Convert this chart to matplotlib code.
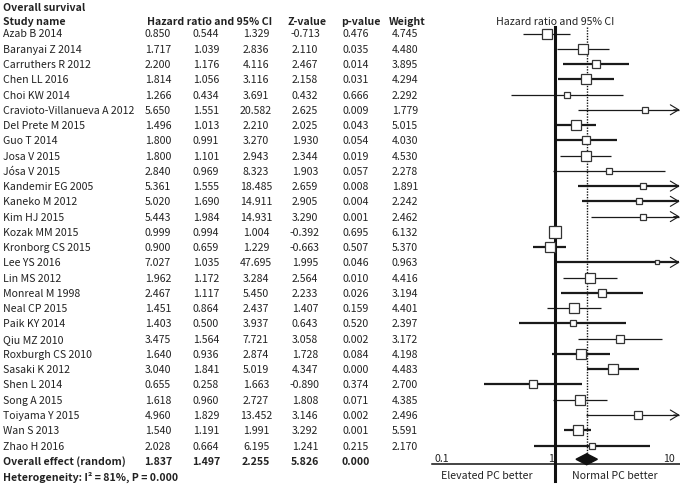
import numpy as np
import matplotlib.pyplot as plt
from matplotlib.transforms import blended_transform_factory

plt.rcParams['font.family'] = ['Noto Sans CJK SC', 'DejaVu Sans']

# data
studies = [
    "Azab B 2014", "Baranyai Z 2014", "Carruthers R 2012", "Chen LL 2016",
    "Choi KW 2014", "Cravioto-Villanueva A 2012", "Del Prete M 2015",
    "Guo T 2014", "Josa V 2015", "Jósa V 2015", "Kandemir EG 2005",
    "Kaneko M 2012", "Kim HJ 2015", "Kozak MM 2015", "Kronborg CS 2015",
    "Lee YS 2016", "Lin MS 2012", "Monreal M 1998", "Neal CP 2015",
    "Paik KY 2014", "Qiu MZ 2010", "Roxburgh CS 2010", "Sasaki K 2012",
    "Shen L 2014", "Song A 2015", "Toiyama Y 2015", "Wan S 2013",
    "Zhao H 2016",
]
hr = [0.850, 1.717, 2.200, 1.814, 1.266, 5.650, 1.496, 1.800, 1.800, 2.840,
      5.361, 5.020, 5.443, 0.999, 0.900, 7.027, 1.962, 2.467, 1.451, 1.403,
      3.475, 1.640, 3.040, 0.655, 1.618, 4.960, 1.540, 2.028]
lower = [0.544, 1.039, 1.176, 1.056, 0.434, 1.551, 1.013, 0.991, 1.101, 0.969,
         1.555, 1.690, 1.984, 0.994, 0.659, 1.035, 1.172, 1.117, 0.864, 0.500,
         1.564, 0.936, 1.841, 0.258, 0.960, 1.829, 1.191, 0.664]
upper = [1.329, 2.836, 4.116, 3.116, 3.691, 20.582, 2.210, 3.270, 2.943, 8.323,
         18.485, 14.911, 14.931, 1.004, 1.229, 47.695, 3.284, 5.450, 2.437, 3.937,
         7.721, 2.874, 5.019, 1.663, 2.727, 13.452, 1.991, 6.195]
zval = [-0.713, 2.110, 2.467, 2.158, 0.432, 2.625, 2.025, 1.930, 2.344, 1.903,
        2.659, 2.905, 3.290, -0.392, -0.663, 1.995, 2.564, 2.233, 1.407, 0.643,
        3.058, 1.728, 4.347, -0.890, 1.808, 3.146, 3.292, 1.241]
pval = [0.476, 0.035, 0.014, 0.031, 0.666, 0.009, 0.043, 0.054, 0.019, 0.057,
        0.008, 0.004, 0.001, 0.695, 0.507, 0.046, 0.010, 0.026, 0.159, 0.520,
        0.002, 0.084, 0.000, 0.374, 0.071, 0.002, 0.001, 0.215]
weight = [4.745, 4.480, 3.895, 4.294, 2.292, 1.779, 5.015, 4.030, 4.530, 2.278,
          1.891, 2.242, 2.462, 6.132, 5.370, 0.963, 4.416, 3.194, 4.401, 2.397,
          3.172, 4.198, 4.483, 2.700, 4.385, 2.496, 5.591, 2.170]

overall = dict(hr=1.837, lower=1.497, upper=2.255, z=5.826, p=0.000)
heterogeneity = "Heterogeneity: I² = 81%, P = 0.000"

# rows whose CI lines render heavier in the original
heavy_ci = {"Carruthers R 2012", "Chen LL 2016", "Del Prete M 2015", "Guo T 2014",
            "Kandemir EG 2005", "Kaneko M 2012", "Kronborg CS 2015", "Lee YS 2016",
            "Monreal M 1998", "Paik KY 2014", "Roxburgh CS 2010", "Sasaki K 2012",
            "Shen L 2014", "Wan S 2013", "Zhao H 2016"}

W, H = 680, 489
fig = plt.figure(figsize=(W / 100, H / 100), dpi=100)
ax = fig.add_axes([0, 0, 1, 1])
ax.set_xscale('log')
px_dec = 120.0
x_one = 555.0
ax.set_xlim(10 ** (-x_one / px_dec), 10 ** ((W - x_one) / px_dec))
row0, step = 34.5, 15.26
ax.set_ylim((H - row0) / step, -row0 / step)
ax.axis('off')

tr = blended_transform_factory(fig.transFigure, ax.transData)
fx = lambda p: p / W

txt = '#222222'
fs = 7.6
n = len(studies)

# title and headers
ax.text(fx(3), -1.75, "Overall survival", transform=tr, fontsize=fs, color=txt,
        va='center', ha='left', fontweight='bold')
hdr_y = -0.85
ax.text(fx(3), hdr_y, "Study name", transform=tr, fontsize=fs, color=txt,
        va='center', ha='left', fontweight='bold')
ax.text(fx(210), hdr_y, "Hazard ratio and 95% CI", transform=tr, fontsize=fs,
        color=txt, va='center', ha='center', fontweight='bold')
ax.text(fx(307), hdr_y, "Z-value", transform=tr, fontsize=fs, color=txt,
        va='center', ha='center', fontweight='bold')
ax.text(fx(361), hdr_y, "p-value", transform=tr, fontsize=fs, color=txt,
        va='center', ha='center', fontweight='bold')
ax.text(fx(407), hdr_y, "Weight", transform=tr, fontsize=fs, color=txt,
        va='center', ha='center', fontweight='bold')
ax.text(1, hdr_y, "Hazard ratio and 95% CI", fontsize=fs, color=txt,
        va='center', ha='center')

cols = [158, 206, 256, 305, 356, 405]

xmax = ax.get_xlim()[1] * 0.985
for i in range(n):
    vals = [hr[i], lower[i], upper[i], zval[i], pval[i], weight[i]]
    ax.text(fx(3), i, studies[i], transform=tr, fontsize=fs, color=txt,
            va='center', ha='left')
    for c, v in zip(cols, vals):
        ax.text(fx(c), i, f"{v:.3f}", transform=tr,
                fontsize=fs, color=txt, va='center', ha='center')

    lw = 1.6 if studies[i] in heavy_ci else 0.9
    hi = min(upper[i], xmax)
    ax.plot([lower[i], hi], [i, i], color='#1a1a1a', lw=lw,
            solid_capstyle='butt', zorder=2)
    if upper[i] > xmax:
        ax.annotate('', xy=(xmax * 1.01, i), xytext=(xmax * 0.9, i),
                    arrowprops=dict(arrowstyle='->, head_length=0.5, head_width=0.3',
                                    color='#1a1a1a', lw=0.8,
                                    mutation_scale=12, shrinkA=0, shrinkB=0),
                    zorder=2)
    ax.plot(hr[i], i, marker='s', markersize=3.2 * np.sqrt(weight[i]),
            markerfacecolor='white', markeredgecolor='#333333',
            markeredgewidth=0.9, zorder=4)

# overall row
oy = n
ax.text(fx(3), oy, "Overall effect (random)", transform=tr, fontsize=fs,
        color=txt, va='center', ha='left', fontweight='bold')
for c, v in zip(cols, [overall['hr'], overall['lower'], overall['upper'],
                       overall['z'], overall['p']]):
    ax.text(fx(c), oy, f"{v:.3f}", transform=tr, fontsize=fs, color=txt,
            va='center', ha='center', fontweight='bold')
ax.text(fx(3), oy + 1, heterogeneity, transform=tr, fontsize=fs, color=txt,
        va='center', ha='left', fontweight='bold')

dh = 0.36
ax.fill([overall['lower'], overall['hr'], overall['upper'], overall['hr']],
        [oy - 0.1, oy - 0.1 - dh, oy - 0.1, oy - 0.1 + dh],
        color='#111111', zorder=5)

# reference lines
ax.plot([1, 1], [-0.45, n + 1.35], color='#111111', lw=2.2, zorder=3)
ax.plot([overall['hr']] * 2, [-0.45, oy - 0.4], color='#111111', lw=1.0,
        ls=(0, (1, 1)), zorder=1)

# x axis
axis_y = n + 0.22
ax.plot([10 ** (-1.025), ax.get_xlim()[1]], [axis_y, axis_y], color='#111111',
        lw=1.1, zorder=3)
tick_vals = [0.1, 1, 10]
ax.text(tick_vals[0], axis_y - 0.05, "0.1", fontsize=fs, color=txt, ha='left',
        va='bottom')
ax.text(tick_vals[1] * 0.985, axis_y - 0.05, "1", fontsize=fs, color=txt,
        ha='right', va='bottom')
ax.text(tick_vals[2] * 1.0, axis_y - 0.05, "10", fontsize=fs, color=txt,
        ha='right', va='bottom')

ax.text(fx(487), n + 0.92, "Elevated PC better", transform=tr, fontsize=fs,
        color=txt, ha='center', va='center')
ax.text(fx(615), n + 0.92, "Normal PC better", transform=tr, fontsize=fs,
        color=txt, ha='center', va='center')

fig.savefig('out.png', dpi=100, facecolor='white')
